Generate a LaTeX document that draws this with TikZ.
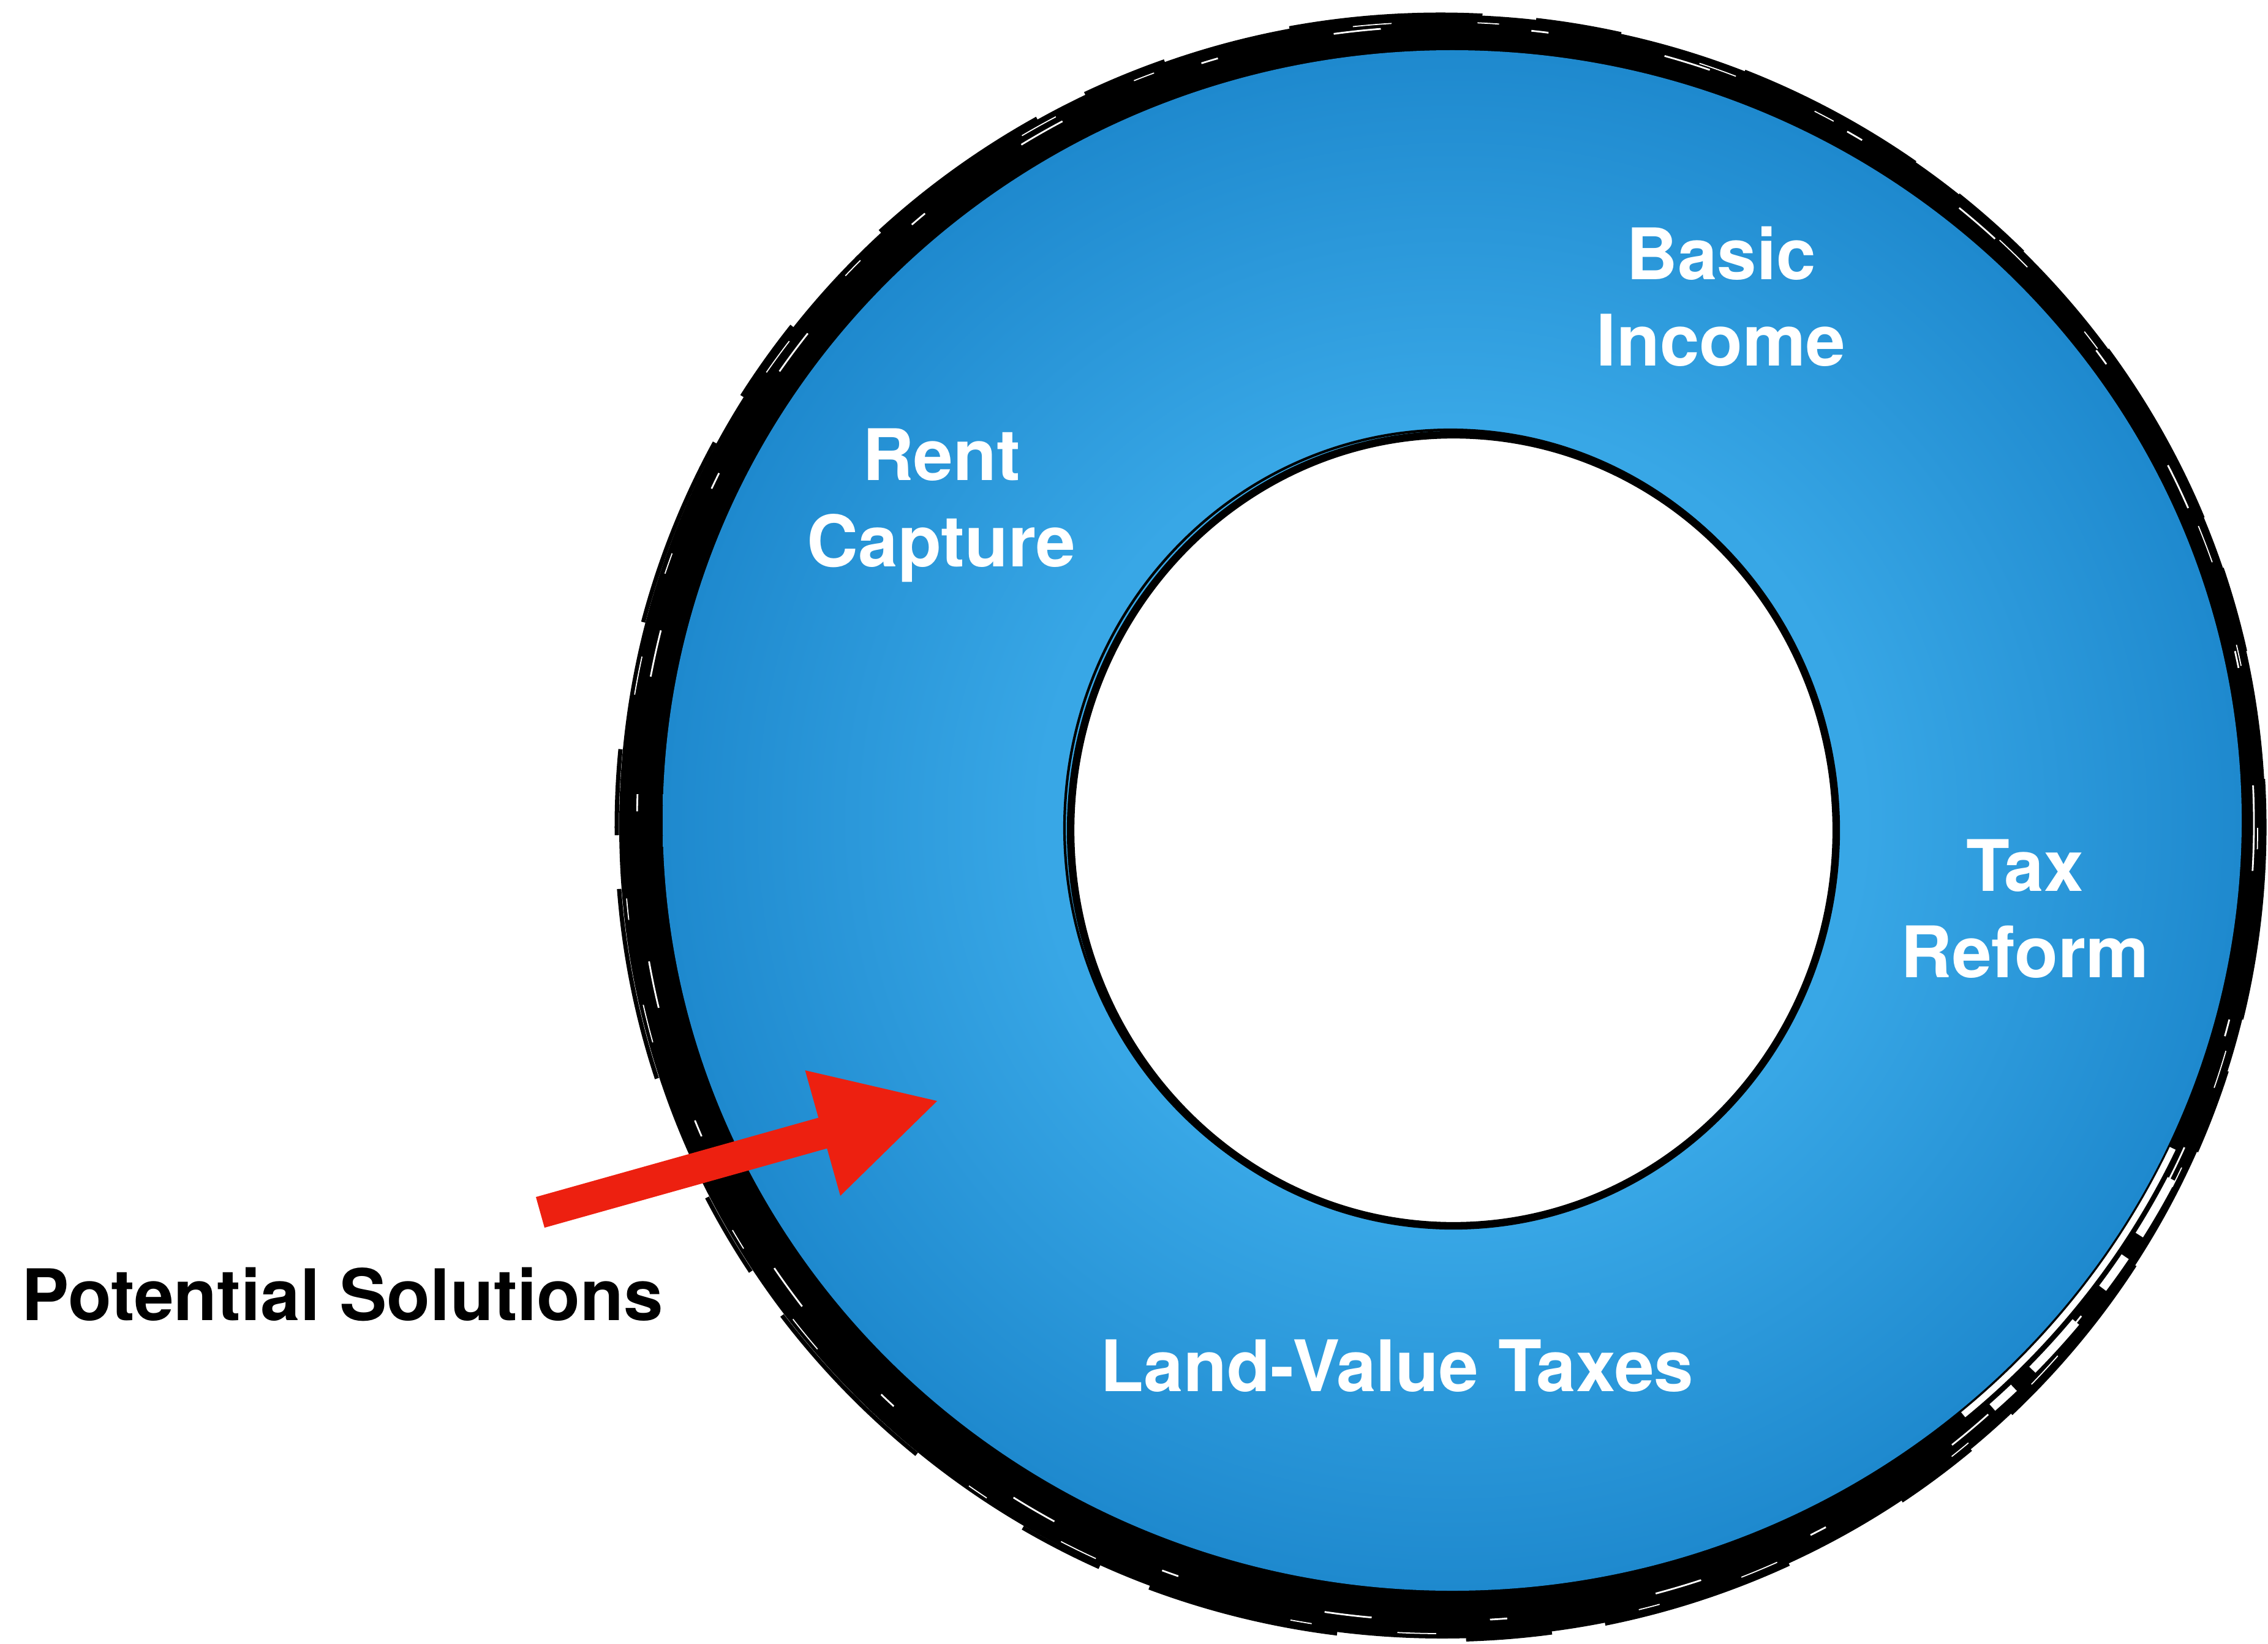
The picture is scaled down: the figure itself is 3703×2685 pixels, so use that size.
\documentclass[tikz,border=0pt]{standalone}
\usepackage{fontspec}
\setmainfont{TeX Gyre Heros}
\usetikzlibrary{arrows.meta}

\definecolor{ringlight}{RGB}{56,167,230}
\definecolor{ringdark}{RGB}{30,137,206}
\definecolor{arrowred}{RGB}{237,32,16}
\pgfdeclareradialshading{ringshade}{\pgfpoint{0bp}{0bp}}{color(0bp)=(ringlight); color(13bp)=(ringlight); color(25bp)=(ringdark); color(50bp)=(ringdark)}

\begin{document}
\begin{tikzpicture}[x=0.01cm, y=-0.01cm,
	lbl/.style={font=\fontsize{33}{40}\selectfont\bfseries, text=white, align=center, inner sep=0pt},
	caption/.style={font=\fontsize{33}{40}\selectfont\bfseries, text=black, inner sep=0pt},
	streak/.style={white, line width=#1},
	solarrow/.style={draw=arrowred, line width=0.52cm, -{Triangle[length=1.98cm, width=1.97cm]}}]
	\useasboundingbox (0,0) rectangle (3703,2685);

	% brushed outer rim
	\fill[black] (2355,1350) ellipse [x radius=1344, y radius=1326];
	\draw[black, line width=2pt, dash pattern=on 90pt off 25pt on 40pt off 60pt] (2352,1351) ellipse [x radius=1345, y radius=1327];
	\draw[streak=0.8pt, dash pattern=on 22pt off 70pt on 8pt off 55pt] (2360,1345) ellipse [x radius=1320, y radius=1302];
	\draw[streak=0.5pt, dash pattern=on 10pt off 95pt on 18pt off 40pt] (2352,1352) ellipse [x radius=1334, y radius=1316];
	% thin, broken part of the rim at the lower right
	\draw[streak=3pt] (2371,1340) ++(25:1298 and 1267) arc [start angle=25, end angle=50, x radius=1298, y radius=1267];
	\draw[streak=4pt, dash pattern=on 30pt off 12pt on 18pt off 20pt] (2371,1340) ++(27:1318 and 1290) arc [start angle=27, end angle=48, x radius=1318, y radius=1290];

	% the ring itself
	\shade[shading=ringshade] (2371,1340) ellipse [x radius=1289, y radius=1258];
	\filldraw[fill=white, draw=black, line width=3.5pt] (2373,1356) ellipse [x radius=625, y radius=646];
	\draw[black, line width=1.2pt] (2368,1352) ellipse [x radius=630, y radius=650];

	\node[lbl, anchor=base] (basic) at (2810,597)  {Basic\\Income};
	\node[lbl, anchor=base] (rent)  at (1537,925)  {Rent\\Capture};
	\node[lbl, anchor=base] (tax)   at (3306,1596) {Tax\\Reform};
	\node[lbl, anchor=base] (land)  at (2281,2272) {Land-Value Taxes};
	\node[caption, anchor=base west] (sol) at (35,2156) {Potential Solutions};

	\coordinate (arrtail) at (882,1980);
	\coordinate (arrtip)  at (1534,1797);
	\draw[solarrow] (arrtail) -- (arrtip);
\end{tikzpicture}
\end{document}
